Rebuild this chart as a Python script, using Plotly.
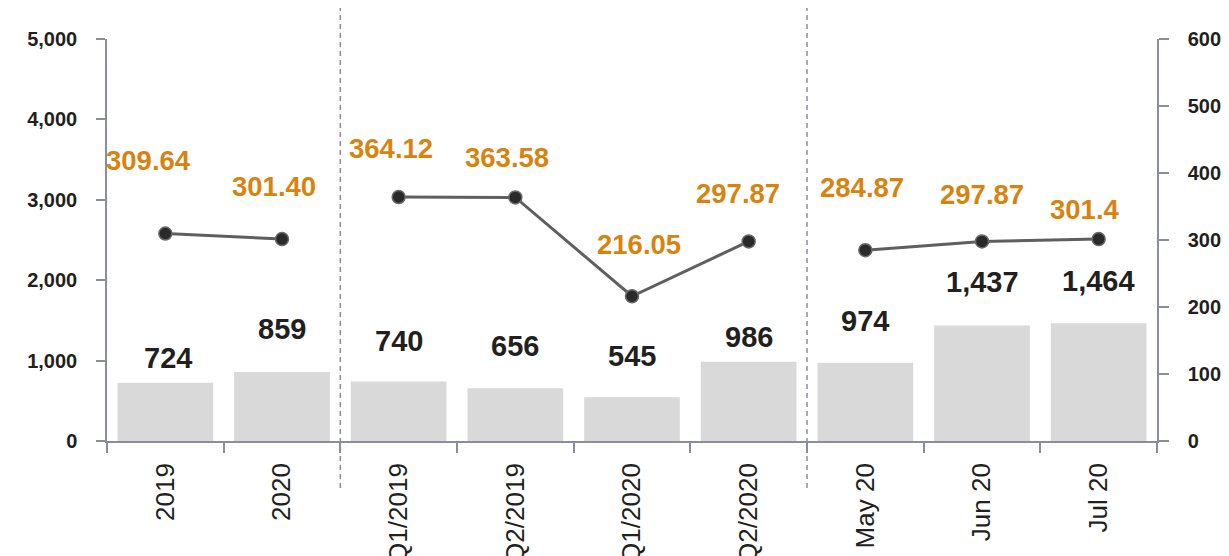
import plotly.graph_objects as go

categories = ["2019", "2020", "Q1/2019", "Q2/2019", "Q1/2020", "Q2/2020", "May 20", "Jun 20", "Jul 20"]
group_sizes = [2, 4, 3]
bar_values = [724, 859, 740, 656, 545, 986, 974, 1437, 1464]
line_values = [309.64, 301.40, 364.12, 363.58, 216.05, 297.87, 284.87, 297.87, 301.4]
line_labels = ["309.64", "301.40", "364.12", "363.58", "216.05", "297.87", "284.87", "297.87", "301.4"]
left_ticks = [0, 1000, 2000, 3000, 4000, 5000]
right_ticks = [0, 100, 200, 300, 400, 500, 600]

# label placement styles (pixel offsets)
bar_label_yshift = [25, 43, 41, 42, 41, 25, 42, 43, 42]
bar_label_xshift = [3, 0, 0, 0, 0, 0, 0, 0, 0]
line_label_yshift = [73, 53, 49, 40, 52, 48, 63, 47, 30]
line_label_xshift = [-17, -8, -8, -8, 7, -11, -3, 0, -14]

AXIS = "#8c8ca0"
DARK = "#231f20"
ORANGE = "#d9830f"
FONT = "Liberation Sans, Arial, sans-serif"

fig = go.Figure()
fig.add_trace(go.Bar(
    x=categories, y=bar_values, marker=dict(color="#d9d9d9", line=dict(width=0)),
    yaxis="y", showlegend=False, hoverinfo="skip"))

start = 0
for g in group_sizes:
    fig.add_trace(go.Scatter(
        x=categories[start:start + g], y=line_values[start:start + g], yaxis="y2",
        mode="lines+markers",
        line=dict(color="#5f5f5f", width=3),
        marker=dict(size=13, color="#2a2a2a", line=dict(color="#6a6a6a", width=1.5)),
        showlegend=False, hoverinfo="skip"))
    start += g

annotations = []
for i, c in enumerate(categories):
    annotations.append(dict(
        x=i, y=bar_values[i], xref="x", yref="y", text="{:,}".format(bar_values[i]),
        showarrow=False, yanchor="middle", xanchor="center",
        yshift=bar_label_yshift[i], xshift=bar_label_xshift[i],
        font=dict(family=FONT, size=29, color=DARK, weight="bold")))
    annotations.append(dict(
        x=i, y=line_values[i], xref="x", yref="y2", text=line_labels[i],
        showarrow=False, yanchor="middle", xanchor="center",
        yshift=line_label_yshift[i], xshift=line_label_xshift[i],
        font=dict(family=FONT, size=27.5, color=ORANGE, weight="bold")))

shapes = []
pos = -0.5
for g in group_sizes[:-1]:
    pos += g
    shapes.append(dict(type="line", xref="x", yref="paper", x0=pos, x1=pos,
                       y0=-0.117, y1=1.2, line=dict(color=AXIS, width=1.5, dash="5px,4px")))

fig.update_layout(
    width=1229, height=556,
    margin=dict(l=99, r=80, t=31, b=123),
    paper_bgcolor="white", plot_bgcolor="white",
    bargap=0.18,
    font=dict(family=FONT, color=DARK),
    annotations=annotations, shapes=shapes,
    xaxis=dict(type="category", range=[-0.5, len(categories) - 0.5], automargin=False,
               tickson="boundaries", ticks="outside", ticklen=10, tickcolor=AXIS, tickwidth=1.5,
               showline=True, linecolor=AXIS, linewidth=1.5, showgrid=False,
               ticklabelstandoff=10,
               tickangle=-90, tickfont=dict(family=FONT, size=26, color=DARK)),
    yaxis=dict(range=[0, 5000], tickvals=left_ticks, tickformat=",", automargin=False,
               ticks="outside", ticklen=9, tickcolor=AXIS, tickwidth=1.5,
               showline=True, linecolor=AXIS, linewidth=1.5, showgrid=False, zeroline=False,
               ticklabelstandoff=15,
               tickfont=dict(family=FONT, size=20, color=DARK, weight="bold")),
    yaxis2=dict(range=[0, 600], tickvals=right_ticks, overlaying="y", side="right", automargin=False,
                ticks="outside", ticklen=10, tickcolor=AXIS, tickwidth=1.5,
                showline=True, linecolor=AXIS, linewidth=1.5, showgrid=False, zeroline=False,
                ticklabelstandoff=15,
                tickfont=dict(family=FONT, size=20, color=DARK, weight="bold")),
)

fig.write_html("out.html")
